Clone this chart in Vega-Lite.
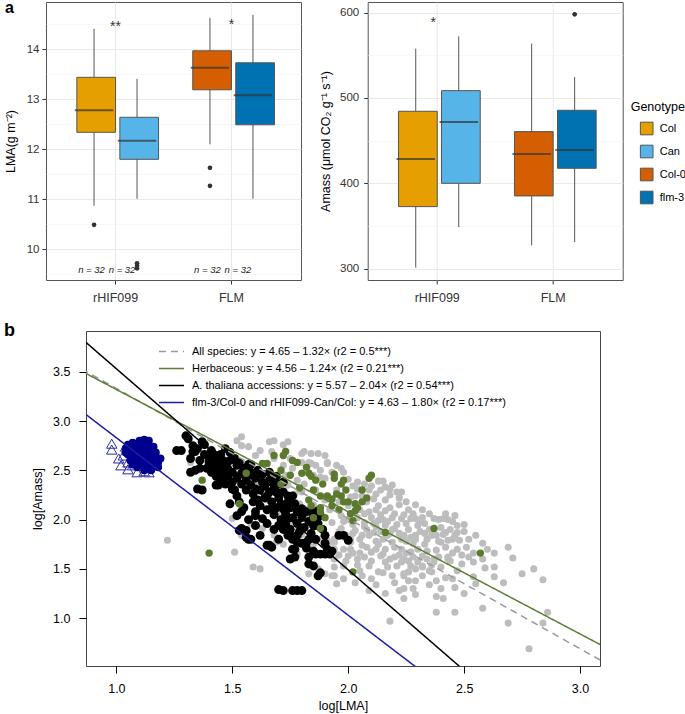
{
  "$schema": "https://vega.github.io/schema/vega-lite/v6.json",
  "padding": {"left": 3, "top": -1, "right": 0, "bottom": 0},
  "config": {
    "font": "Liberation Sans",
    "view": {"stroke": null},
    "axis": {"labelColor": "#333", "titleColor": "#000", "titleFontWeight": "normal", "domain": false},
    "legend": {"titleFontWeight": "normal"}
  },
  "datasets": {
    "lma_box": [
      {"locus": "rHIF099", "pos": "1", "geno": "Col", "lo": 10.87, "q1": 12.34, "med": 12.78, "q3": 13.44, "hi": 14.41},
      {"locus": "rHIF099", "pos": "2", "geno": "Can", "lo": 11.01, "q1": 11.80, "med": 12.17, "q3": 12.64, "hi": 13.41},
      {"locus": "FLM", "pos": "1", "geno": "Col-0", "lo": 12.10, "q1": 13.19, "med": 13.63, "q3": 13.97, "hi": 14.63},
      {"locus": "FLM", "pos": "2", "geno": "flm-3", "lo": 11.01, "q1": 12.49, "med": 13.08, "q3": 13.73, "hi": 14.69}
    ],
    "lma_out": [
      {"locus": "rHIF099", "pos": "1", "v": 10.49},
      {"locus": "rHIF099", "pos": "2", "v": 9.72},
      {"locus": "rHIF099", "pos": "2", "v": 9.67},
      {"locus": "rHIF099", "pos": "2", "v": 9.62},
      {"locus": "FLM", "pos": "1", "v": 11.63},
      {"locus": "FLM", "pos": "1", "v": 11.27}
    ],
    "lma_ann": [
      {"locus": "rHIF099", "v": 14.37, "t": "**"},
      {"locus": "FLM", "v": 14.41, "t": "*"}
    ],
    "lma_n": [
      {"locus": "rHIF099", "pos": "1", "v": 9.58, "t": "n = 32"},
      {"locus": "rHIF099", "pos": "2", "v": 9.58, "t": "n = 32"},
      {"locus": "FLM", "pos": "1", "v": 9.58, "t": "n = 32"},
      {"locus": "FLM", "pos": "2", "v": 9.58, "t": "n = 32"}
    ],
    "am_box": [
      {"locus": "rHIF099", "pos": "1", "geno": "Col", "lo": 301.2, "q1": 372.7, "med": 428.5, "q3": 484.4, "hi": 557.8},
      {"locus": "rHIF099", "pos": "2", "geno": "Can", "lo": 348.8, "q1": 400.0, "med": 471.9, "q3": 508.6, "hi": 572.3},
      {"locus": "FLM", "pos": "1", "geno": "Col-0", "lo": 327.4, "q1": 385.2, "med": 434.4, "q3": 460.6, "hi": 563.7},
      {"locus": "FLM", "pos": "2", "geno": "flm-3", "lo": 331.2, "q1": 417.6, "med": 439.1, "q3": 485.6, "hi": 524.6}
    ],
    "am_out": [
      {"locus": "FLM", "pos": "2", "v": 598.1}
    ],
    "am_ann": [
      {"locus": "rHIF099", "v": 583, "t": "*"}
    ],
    "lines": [
      {"s": "All species: y = 4.65 – 1.32× (r2 = 0.5***)", "x": 0.85, "y": 3.528},
      {"s": "All species: y = 4.65 – 1.32× (r2 = 0.5***)", "x": 3.1, "y": 0.558},
      {"s": "Herbaceous: y = 4.56 – 1.24× (r2 = 0.21***)", "x": 0.85, "y": 3.506},
      {"s": "Herbaceous: y = 4.56 – 1.24× (r2 = 0.21***)", "x": 3.1, "y": 0.716},
      {"s": "A. thaliana accessions: y = 5.57 – 2.04× (r2 = 0.54***)", "x": 0.85, "y": 3.836},
      {"s": "A. thaliana accessions: y = 5.57 – 2.04× (r2 = 0.54***)", "x": 2.6, "y": 0.266},
      {"s": "flm-3/Col-0 and rHIF099-Can/Col: y = 4.63 – 1.80× (r2 = 0.17***)", "x": 0.85, "y": 3.10},
      {"s": "flm-3/Col-0 and rHIF099-Can/Col: y = 4.63 – 1.80× (r2 = 0.17***)", "x": 2.4, "y": 0.31}
    ],
    "gray": [
      {"x":1.22,"y":1.79},{"x":1.32,"y":2.58},{"x":1.38,"y":2.62},{"x":1.51,"y":1.67},{"x":1.59,"y":1.52},{"x":1.62,"y":1.50},
      {"x":1.52,"y":2.80},{"x":1.54,"y":2.84},{"x":1.54,"y":2.75},{"x":1.57,"y":2.74},{"x":1.60,"y":2.65},{"x":1.66,"y":2.79},
      {"x":1.68,"y":2.80},{"x":1.67,"y":2.69},{"x":1.72,"y":2.76},{"x":1.74,"y":2.79},{"x":1.81,"y":2.69},{"x":1.84,"y":2.67},
      {"x":1.80,"y":2.67},{"x":1.83,"y":2.58},{"x":1.87,"y":2.67},{"x":1.90,"y":2.65},{"x":1.91,"y":2.58},{"x":1.62,"y":2.70},
      {"x":1.68,"y":2.62},{"x":1.50,"y":2.01},{"x":1.58,"y":1.96},{"x":1.63,"y":1.91},{"x":1.68,"y":1.84},{"x":1.54,"y":1.84},
      {"x":1.83,"y":1.45},{"x":1.87,"y":1.50},{"x":1.93,"y":1.43},{"x":1.91,"y":1.79},{"x":1.94,"y":1.77},{"x":1.76,"y":2.18},
      {"x":1.77,"y":2.26},{"x":1.79,"y":2.16},{"x":1.83,"y":2.01},{"x":1.70,"y":2.40},{"x":1.73,"y":2.45},{"x":1.76,"y":2.52},
      {"x":1.78,"y":2.40},{"x":1.86,"y":2.55},{"x":1.88,"y":2.50},{"x":1.95,"y":2.55},{"x":1.98,"y":2.48},{"x":1.97,"y":2.52},
      {"x":1.84,"y":2.57},{"x":1.91,"y":2.57},{"x":1.88,"y":2.43},{"x":1.81,"y":2.36},{"x":2.00,"y":2.41},{"x":2.04,"y":2.38},
      {"x":2.04,"y":2.31},{"x":2.09,"y":2.30},{"x":2.13,"y":2.39},{"x":2.14,"y":2.30},{"x":2.21,"y":2.28},{"x":2.11,"y":2.21},
      {"x":2.01,"y":2.23},{"x":2.03,"y":2.24},{"x":2.06,"y":2.24},{"x":2.13,"y":2.14},{"x":2.16,"y":2.09},{"x":2.09,"y":2.08},
      {"x":2.07,"y":1.97},{"x":2.13,"y":1.99},{"x":2.19,"y":2.02},{"x":2.23,"y":2.01},{"x":2.27,"y":2.01},{"x":2.32,"y":2.02},
      {"x":2.37,"y":2.01},{"x":2.41,"y":2.01},{"x":2.43,"y":2.00},{"x":2.39,"y":2.00},{"x":2.20,"y":1.91},{"x":2.24,"y":1.84},
      {"x":2.29,"y":1.80},{"x":2.34,"y":1.80},{"x":2.43,"y":1.79},{"x":2.11,"y":1.87},{"x":2.06,"y":1.84},{"x":2.01,"y":1.80},
      {"x":1.97,"y":1.91},{"x":1.94,"y":1.80},{"x":1.94,"y":1.70},{"x":1.98,"y":1.70},{"x":2.06,"y":1.74},{"x":2.10,"y":1.67},
      {"x":2.16,"y":1.70},{"x":2.19,"y":1.77},{"x":2.23,"y":1.70},{"x":2.27,"y":1.67},{"x":2.32,"y":1.63},{"x":2.37,"y":1.60},
      {"x":2.04,"y":1.60},{"x":2.09,"y":1.53},{"x":2.16,"y":1.57},{"x":2.21,"y":1.53},{"x":2.13,"y":1.47},{"x":2.06,"y":1.43},
      {"x":2.24,"y":1.45},{"x":2.19,"y":1.43},{"x":1.94,"y":1.60},{"x":1.98,"y":1.53},{"x":2.16,"y":1.94},{"x":1.97,"y":2.04},
      {"x":1.93,"y":1.97},{"x":1.88,"y":1.80},{"x":2.23,"y":1.80},{"x":2.42,"y":1.87},{"x":2.43,"y":1.60},{"x":2.32,"y":1.52},
      {"x":2.27,"y":1.53},{"x":2.36,"y":1.47},{"x":2.17,"y":1.84},{"x":2.13,"y":1.75},{"x":2.01,"y":1.70},{"x":2.03,"y":1.89},
      {"x":2.01,"y":1.77},{"x":1.93,"y":1.77},
      {"x":2.63,"y":1.66},{"x":2.71,"y":1.61},{"x":2.80,"y":1.50},{"x":2.84,"y":1.39},{"x":2.67,"y":1.36},{"x":2.86,"y":1.06},
      {"x":2.84,"y":0.95},{"x":2.69,"y":0.95},{"x":2.78,"y":0.69},{"x":2.58,"y":1.10},{"x":2.46,"y":1.06},{"x":2.38,"y":1.06},
      {"x":2.38,"y":1.22},{"x":2.41,"y":1.20},{"x":2.29,"y":1.24},{"x":2.24,"y":1.20},{"x":2.24,"y":1.30},{"x":2.46,"y":1.31},
      {"x":2.29,"y":1.38},{"x":2.38,"y":1.38},{"x":2.42,"y":1.41},{"x":2.45,"y":1.40},{"x":2.54,"y":1.42},{"x":2.59,"y":1.51},
      {"x":2.63,"y":1.52},{"x":2.54,"y":1.57},{"x":2.54,"y":1.66},{"x":2.49,"y":1.55},{"x":2.47,"y":1.48},{"x":2.35,"y":1.48},
      {"x":2.26,"y":1.47},{"x":2.32,"y":1.53},{"x":2.37,"y":1.57},{"x":2.44,"y":1.58},{"x":2.49,"y":1.64},{"x":2.48,"y":1.79},
      {"x":2.46,"y":1.84},{"x":2.42,"y":1.72},{"x":2.38,"y":1.69},{"x":2.43,"y":1.62},{"x":2.33,"y":1.86},{"x":2.29,"y":1.84},
      {"x":2.25,"y":1.78},{"x":2.33,"y":1.75},{"x":2.40,"y":1.77},{"x":2.24,"y":1.60},{"x":2.29,"y":1.50},{"x":2.24,"y":1.43},
      {"x":2.32,"y":1.43},{"x":2.45,"y":1.80},{"x":2.47,"y":1.87},
      {"x":2.18,"y":0.97},{"x":2.09,"y":1.28},{"x":2.03,"y":1.36},{"x":1.94,"y":1.43},{"x":1.94,"y":1.52},{"x":1.90,"y":1.45},
      {"x":2.23,"y":2.28},{"x":2.15,"y":2.39},{"x":2.18,"y":2.31},{"x":2.29,"y":2.01},{"x":2.46,"y":2.04},{"x":2.50,"y":1.95},
      {"x":2.08,"y":1.90},{"x":2.12,"y":1.93},{"x":2.15,"y":1.80},{"x":2.18,"y":1.86},{"x":2.21,"y":1.95},{"x":2.26,"y":1.90},
      {"x":2.30,"y":1.94},{"x":2.35,"y":1.90},{"x":2.38,"y":1.84},{"x":2.40,"y":1.92},{"x":2.14,"y":1.63},{"x":2.18,"y":1.60},
      {"x":2.22,"y":1.64},{"x":2.26,"y":1.58},{"x":2.30,"y":1.70},{"x":2.34,"y":1.68},{"x":2.28,"y":1.76},{"x":2.20,"y":1.72},
      {"x":2.12,"y":1.78},{"x":2.08,"y":1.72},{"x":2.05,"y":1.66},{"x":2.00,"y":1.63},{"x":1.98,"y":1.98},{"x":2.02,"y":1.95},
      {"x":2.10,"y":2.02},{"x":2.14,"y":2.05},{"x":2.18,"y":2.12},{"x":2.22,"y":2.15},{"x":2.26,"y":2.10},{"x":2.05,"y":2.10},
      {"x":2.00,"y":2.14},{"x":1.96,"y":2.18},{"x":2.08,"y":2.18},{"x":2.12,"y":2.26},{"x":2.16,"y":2.20},{"x":2.19,"y":2.35},
      {"x":1.72,"y":2.55},{"x":1.75,"y":2.62},{"x":1.80,"y":2.58},{"x":1.85,"y":2.45},{"x":1.90,"y":2.42},{"x":1.93,"y":2.48},
      {"x":1.70,"y":2.32},{"x":1.74,"y":2.35},{"x":1.80,"y":2.28},{"x":1.86,"y":2.30},{"x":1.90,"y":2.20},{"x":1.85,"y":2.15},
      {"x":1.82,"y":2.10},{"x":1.88,"y":2.05},{"x":1.92,"y":2.10},{"x":1.95,"y":2.30},
      {"x":1.45,"y":2.50},{"x":1.50,"y":2.40},{"x":1.55,"y":2.50},{"x":1.60,"y":2.35},{"x":1.65,"y":2.20},{"x":1.70,"y":2.05},
      {"x":1.75,"y":1.95},{"x":1.80,"y":1.85},{"x":1.85,"y":1.75},{"x":1.72,"y":1.75},{"x":1.78,"y":1.65},{"x":1.69,"y":1.77},
      {"x":1.96,"y":1.88},{"x":1.99,"y":1.84},{"x":2.02,"y":1.86},{"x":2.05,"y":1.80},{"x":2.07,"y":1.93},{"x":2.09,"y":1.84},
      {"x":2.11,"y":1.96},{"x":2.14,"y":1.88},{"x":2.17,"y":1.98},{"x":2.19,"y":1.90},{"x":2.22,"y":1.86},{"x":2.25,"y":1.96},
      {"x":2.27,"y":1.82},{"x":2.31,"y":1.88},{"x":2.33,"y":1.96},{"x":2.36,"y":1.84},{"x":2.39,"y":1.78},{"x":2.41,"y":1.85},
      {"x":2.44,"y":1.90},{"x":2.47,"y":1.94},{"x":2.50,"y":1.88},{"x":2.52,"y":1.80},{"x":2.55,"y":1.84},{"x":2.58,"y":1.76},
      {"x":2.60,"y":1.70},{"x":1.96,"y":1.64},{"x":1.99,"y":1.58},{"x":2.02,"y":1.66},{"x":2.04,"y":1.54},{"x":2.07,"y":1.62},
      {"x":2.10,"y":1.58},{"x":2.12,"y":1.70},{"x":2.15,"y":1.65},{"x":2.17,"y":1.52},{"x":2.20,"y":1.62},{"x":2.23,"y":1.57},
      {"x":2.25,"y":1.66},{"x":2.28,"y":1.62},{"x":2.30,"y":1.57},{"x":2.34,"y":1.60},{"x":2.36,"y":1.54},{"x":2.39,"y":1.62},
      {"x":2.40,"y":1.52},{"x":2.45,"y":1.66},{"x":2.47,"y":1.70},{"x":2.51,"y":1.72},{"x":2.52,"y":1.62},{"x":2.00,"y":2.00},
      {"x":2.04,"y":2.02},{"x":2.07,"y":2.06},{"x":2.12,"y":2.10},{"x":2.15,"y":2.00},{"x":2.20,"y":2.06},{"x":2.24,"y":2.05},
      {"x":2.28,"y":2.06},{"x":2.31,"y":1.98},{"x":2.35,"y":2.06},{"x":2.42,"y":2.06},{"x":2.45,"y":1.98},{"x":2.02,"y":2.34},
      {"x":2.07,"y":2.36},{"x":2.10,"y":2.34},{"x":2.16,"y":2.33},{"x":2.18,"y":2.25},{"x":2.22,"y":2.22},{"x":2.25,"y":2.18},
      {"x":2.29,"y":2.15},{"x":2.32,"y":2.10},{"x":1.95,"y":1.35},{"x":1.98,"y":1.40},{"x":2.05,"y":1.48},{"x":2.10,"y":1.40},
      {"x":2.12,"y":1.34},{"x":2.15,"y":1.46},{"x":2.20,"y":1.36},{"x":2.22,"y":1.28},{"x":2.26,"y":1.38},{"x":2.28,"y":1.30},
      {"x":2.35,"y":1.34},{"x":2.16,"y":1.25},{"x":2.40,"y":1.30},{"x":2.50,"y":1.25},{"x":2.55,"y":1.35},{"x":2.63,"y":1.42},
      {"x":2.58,"y":1.60},{"x":2.69,"y":1.72},{"x":2.75,"y":1.45}
    ],
    "black": [
      {"x":1.30,"y":2.85},{"x":1.31,"y":2.82},{"x":1.28,"y":2.70},{"x":1.34,"y":2.69},{"x":1.37,"y":2.79},{"x":1.38,"y":2.76},
      {"x":1.36,"y":2.52},{"x":1.37,"y":2.30},{"x":1.40,"y":2.63},{"x":1.42,"y":2.55},{"x":1.46,"y":2.60},{"x":1.48,"y":2.52},
      {"x":1.52,"y":2.55},{"x":1.54,"y":2.47},{"x":1.50,"y":2.38},{"x":1.52,"y":2.24},{"x":1.49,"y":2.16},{"x":1.54,"y":2.08},
      {"x":1.53,"y":1.89},{"x":1.58,"y":1.80},{"x":1.60,"y":2.31},{"x":1.59,"y":2.18},{"x":1.63,"y":2.38},{"x":1.65,"y":2.24},
      {"x":1.67,"y":2.11},{"x":1.70,"y":1.94},{"x":1.72,"y":1.90},{"x":1.67,"y":1.72},{"x":1.66,"y":1.74},{"x":1.76,"y":1.70},
      {"x":1.77,"y":1.62},{"x":1.82,"y":1.71},{"x":1.85,"y":1.53},{"x":1.88,"y":1.65},{"x":1.87,"y":1.43},{"x":1.88,"y":1.46},
      {"x":1.92,"y":1.65},{"x":1.90,"y":1.84},{"x":1.98,"y":1.84},{"x":2.00,"y":1.79},{"x":1.86,"y":1.94},{"x":1.82,"y":1.77},
      {"x":1.76,"y":1.80},{"x":1.74,"y":2.01},{"x":1.80,"y":2.11},{"x":1.84,"y":2.08},{"x":1.87,"y":2.09},{"x":1.74,"y":2.18},
      {"x":1.69,"y":2.28},{"x":1.57,"y":2.45},{"x":1.67,"y":2.38},{"x":1.72,"y":1.28},{"x":1.76,"y":1.28},{"x":1.78,"y":1.28},
      {"x":1.80,"y":1.28},{"x":1.56,"y":1.89},{"x":1.63,"y":2.01},{"x":1.60,"y":2.04},{"x":1.72,"y":2.11},{"x":1.76,"y":2.24},
      {"x":1.46,"y":2.45},{"x":1.32,"y":2.62},
      {"x":1.38,"y":2.66},{"x":1.40,"y":2.58},{"x":1.41,"y":2.70},{"x":1.43,"y":2.62},{"x":1.44,"y":2.50},{"x":1.45,"y":2.66},
      {"x":1.47,"y":2.55},{"x":1.48,"y":2.44},{"x":1.49,"y":2.60},{"x":1.50,"y":2.48},{"x":1.51,"y":2.62},{"x":1.52,"y":2.42},
      {"x":1.53,"y":2.58},{"x":1.54,"y":2.36},{"x":1.55,"y":2.52},{"x":1.56,"y":2.40},{"x":1.56,"y":2.30},{"x":1.57,"y":2.56},
      {"x":1.58,"y":2.35},{"x":1.58,"y":2.48},{"x":1.59,"y":2.26},{"x":1.60,"y":2.42},{"x":1.61,"y":2.20},{"x":1.61,"y":2.50},
      {"x":1.62,"y":2.30},{"x":1.62,"y":2.14},{"x":1.63,"y":2.46},{"x":1.64,"y":2.22},{"x":1.64,"y":2.34},{"x":1.65,"y":2.10},
      {"x":1.66,"y":2.28},{"x":1.66,"y":2.40},{"x":1.67,"y":2.18},{"x":1.68,"y":2.05},{"x":1.68,"y":2.32},{"x":1.69,"y":2.12},
      {"x":1.70,"y":2.22},{"x":1.70,"y":2.36},{"x":1.71,"y":2.00},{"x":1.71,"y":2.16},{"x":1.72,"y":2.28},{"x":1.73,"y":1.95},
      {"x":1.73,"y":2.06},{"x":1.74,"y":2.24},{"x":1.75,"y":2.12},{"x":1.75,"y":1.90},{"x":1.76,"y":2.02},{"x":1.77,"y":2.16},
      {"x":1.78,"y":1.96},{"x":1.78,"y":2.08},{"x":1.79,"y":1.88},{"x":1.80,"y":2.02},{"x":1.81,"y":1.92},{"x":1.82,"y":2.08},
      {"x":1.83,"y":1.98},{"x":1.84,"y":1.86},{"x":1.85,"y":2.02},{"x":1.86,"y":1.80},{"x":1.87,"y":1.96},{"x":1.88,"y":2.04},
      {"x":1.89,"y":1.90},{"x":1.90,"y":1.76},{"x":1.91,"y":1.70},{"x":1.93,"y":1.68},{"x":1.85,"y":1.68},{"x":1.83,"y":1.62},
      {"x":1.80,"y":1.76},{"x":1.78,"y":1.84},{"x":1.74,"y":1.84},{"x":1.70,"y":1.80},{"x":1.68,"y":1.90},{"x":1.65,"y":1.96},
      {"x":1.62,"y":1.84},{"x":1.60,"y":1.94},{"x":1.57,"y":2.00},{"x":1.55,"y":2.12},{"x":1.53,"y":2.18},{"x":1.51,"y":2.30},
      {"x":1.47,"y":2.36},{"x":1.45,"y":2.40},{"x":1.43,"y":2.44},{"x":1.41,"y":2.48},{"x":1.39,"y":2.52},{"x":1.36,"y":2.60},
      {"x":1.35,"y":2.72},{"x":1.33,"y":2.75},{"x":1.42,"y":2.66},{"x":1.44,"y":2.58},{"x":1.46,"y":2.52},{"x":1.49,"y":2.68},
      {"x":1.58,"y":2.56},{"x":1.66,"y":2.48},{"x":1.69,"y":2.44},{"x":1.72,"y":2.38},
      {"x":1.26,"y":2.70},{"x":1.35,"y":2.31},{"x":1.32,"y":2.48},{"x":1.43,"y":2.35},{"x":1.33,"y":2.69},{"x":1.34,"y":2.50},
      {"x":1.42,"y":2.62},{"x":1.47,"y":2.72},{"x":1.44,"y":2.35},{"x":1.50,"y":2.31},{"x":1.52,"y":2.04},{"x":1.54,"y":1.91},
      {"x":1.56,"y":1.82},{"x":1.60,"y":2.08},{"x":1.65,"y":1.74},{"x":1.71,"y":1.94},{"x":1.75,"y":1.84},{"x":1.78,"y":1.77},
      {"x":1.83,"y":1.80},{"x":1.85,"y":1.94},{"x":1.80,"y":2.04},{"x":1.75,"y":1.60},{"x":1.83,"y":1.55},{"x":1.86,"y":1.65},
      {"x":1.90,"y":1.65},{"x":1.96,"y":1.84},{"x":1.77,"y":1.70},{"x":1.57,"y":1.80},{"x":1.70,"y":1.29}
    ],
    "green": [
      {"x":2.10,"y":2.45},{"x":1.94,"y":2.46},{"x":1.97,"y":2.36},{"x":1.89,"y":2.36},{"x":1.91,"y":2.24},{"x":1.95,"y":2.26},
      {"x":1.98,"y":2.18},{"x":2.03,"y":2.16},{"x":2.06,"y":2.18},{"x":2.01,"y":2.06},{"x":2.02,"y":1.99},{"x":2.16,"y":1.87},
      {"x":2.37,"y":1.91},{"x":2.02,"y":1.47},{"x":1.84,"y":2.14},{"x":1.85,"y":2.30},{"x":1.83,"y":2.47},{"x":1.88,"y":2.08},
      {"x":1.93,"y":2.14},{"x":1.88,"y":1.91},{"x":1.63,"y":2.57},{"x":1.71,"y":2.50},{"x":1.78,"y":2.58},{"x":1.82,"y":2.53},
      {"x":1.73,"y":2.69},{"x":1.68,"y":2.65},{"x":1.75,"y":2.45},{"x":1.80,"y":2.47},{"x":1.84,"y":2.44},{"x":1.94,"y":2.42},
      {"x":1.88,"y":2.24},{"x":1.93,"y":2.21},{"x":1.97,"y":2.24},{"x":2.00,"y":2.18},{"x":2.04,"y":2.12},{"x":2.03,"y":2.09},
      {"x":1.88,"y":2.12},{"x":1.85,"y":2.02},{"x":2.09,"y":2.42},{"x":1.71,"y":2.36},{"x":1.56,"y":2.47},{"x":1.40,"y":1.66},
      {"x":1.37,"y":2.40},{"x":1.53,"y":2.16},{"x":2.57,"y":1.66},{"x":1.65,"y":2.57},{"x":1.72,"y":2.65},{"x":1.79,"y":2.32},
      {"x":1.86,"y":2.40},{"x":1.99,"y":2.30},{"x":2.06,"y":2.30},{"x":2.08,"y":2.22},{"x":1.76,"y":2.60},{"x":1.96,"y":2.10},
      {"x":1.90,"y":2.02},{"x":1.83,"y":2.20},{"x":1.98,"y":2.40}
    ],
    "blue": [
      {"x":1.05,"y":2.76},{"x":1.06,"y":2.72},{"x":1.07,"y":2.78},{"x":1.08,"y":2.74},{"x":1.09,"y":2.70},{"x":1.10,"y":2.80},
      {"x":1.11,"y":2.76},{"x":1.12,"y":2.72},{"x":1.13,"y":2.79},{"x":1.14,"y":2.75},{"x":1.15,"y":2.70},{"x":1.05,"y":2.66},
      {"x":1.07,"y":2.63},{"x":1.08,"y":2.68},{"x":1.09,"y":2.62},{"x":1.10,"y":2.66},{"x":1.11,"y":2.60},{"x":1.12,"y":2.65},
      {"x":1.13,"y":2.58},{"x":1.14,"y":2.64},{"x":1.15,"y":2.60},{"x":1.16,"y":2.66},{"x":1.17,"y":2.62},{"x":1.18,"y":2.58},
      {"x":1.16,"y":2.55},{"x":1.14,"y":2.52},{"x":1.12,"y":2.54},{"x":1.10,"y":2.56},{"x":1.08,"y":2.58},{"x":1.06,"y":2.60},
      {"x":1.04,"y":2.72},{"x":1.04,"y":2.68},{"x":1.11,"y":2.70},{"x":1.13,"y":2.68},{"x":1.17,"y":2.68},{"x":1.19,"y":2.62},
      {"x":1.18,"y":2.53},{"x":1.15,"y":2.50},{"x":1.12,"y":2.50},{"x":1.09,"y":2.53},{"x":1.07,"y":2.56},{"x":1.14,"y":2.80},
      {"x":1.12,"y":2.81},{"x":1.10,"y":2.74},{"x":1.16,"y":2.74},{"x":1.06,"y":2.69},{"x":1.08,"y":2.64},{"x":1.15,"y":2.56},
      {"x":1.13,"y":2.62},{"x":1.11,"y":2.64}
    ],
    "tri": [
      {"x":0.98,"y":2.77},{"x":0.98,"y":2.71},{"x":1.03,"y":2.65},{"x":1.02,"y":2.55},{"x":1.09,"y":2.48},{"x":1.14,"y":2.48},
      {"x":1.05,"y":2.58},{"x":1.07,"y":2.55},{"x":1.01,"y":2.62},{"x":1.04,"y":2.74},{"x":1.12,"y":2.49},{"x":1.05,"y":2.51}
    ]
  },
  "columns": 1,
  "spacing": 17,
  "align": "none",
  "resolve": {"scale": {"color": "independent", "strokeDash": "independent"}, "legend": {"color": "independent", "strokeDash": "independent"}},
  "concat": [
    {
      "hconcat": [
        {
          "width": 255, "height": 278,
          "title": {"text": "a", "anchor": "start", "frame": "group", "dx": -41, "offset": -14, "baseline": "top", "fontSize": 16, "fontWeight": "bold", "color": "#000"},
          "view": {"stroke": "#555", "strokeWidth": 1},
          "resolve": {"axis": {"y": "independent"}},
          "layer": [
            {
              "data": {"name": "lma_box"},
              "mark": {"type": "rule", "color": "#555", "strokeWidth": 1},
              "encoding": {
                "x": {"field": "locus", "type": "nominal", "sort": ["rHIF099", "FLM"], "title": null,
                      "scale": {"domain": ["rHIF099", "FLM"], "paddingInner": 0.258, "paddingOuter": 0.229},
                      "axis": {"labelFontSize": 12.5, "labelAngle": 0, "tickSize": 4, "tickColor": "#333", "labelPadding": 7, "grid": true, "gridColor": "#e6e6e6", "gridWidth": 0.9, "bandPosition": 0.5}},
                "xOffset": {"field": "pos", "type": "nominal", "scale": {"domain": ["1", "2"], "paddingInner": 0, "paddingOuter": 0}},
                "y": {"field": "lo", "type": "quantitative", "title": "LMA(g m⁻²)",
                      "scale": {"domain": [9.386, 14.946], "nice": false, "zero": false},
                      "axis": {"values": [10, 11, 12, 13, 14], "format": "d",
                               "labelFontSize": 11.5, "titleFontSize": 12.5, "titlePadding": 9, "tickSize": 4, "tickColor": "#333", "labelPadding": 3,
                               "grid": true, "gridColor": "#e6e6e6", "gridWidth": 0.9}},
                "y2": {"field": "hi"}
              }
            },
            {
              "data": {"name": "lma_box"},
              "mark": {"type": "bar", "stroke": "#555", "strokeWidth": 1, "width": {"band": 0.9}},
              "encoding": {
                "x": {"field": "locus", "type": "nominal", "sort": ["rHIF099", "FLM"], "title": null},
                "xOffset": {"field": "pos", "type": "nominal"},
                "y": {"field": "q1", "type": "quantitative", "axis": null},
                "y2": {"field": "q3"},
                "color": {"field": "geno", "type": "nominal", "legend": null,
                          "scale": {"domain": ["Col", "Can", "Col-0", "flm-3"], "range": ["#E69F00", "#56B4E9", "#D55E00", "#0072B2"]}}
              }
            },
            {
              "data": {"name": "lma_box"},
              "mark": {"type": "tick", "color": "#333", "thickness": 2, "size": 38.5},
              "encoding": {
                "x": {"field": "locus", "type": "nominal", "sort": ["rHIF099", "FLM"], "title": null},
                "xOffset": {"field": "pos", "type": "nominal"},
                "y": {"field": "med", "type": "quantitative", "axis": null}
              }
            },
            {
              "data": {"name": "lma_out"},
              "mark": {"type": "circle", "color": "#333", "size": 22, "opacity": 1},
              "encoding": {
                "x": {"field": "locus", "type": "nominal", "sort": ["rHIF099", "FLM"], "title": null},
                "xOffset": {"field": "pos", "type": "nominal"},
                "y": {"field": "v", "type": "quantitative", "axis": null}
              }
            },
            {
              "data": {"name": "lma_ann"},
              "mark": {"type": "text", "fontSize": 14, "baseline": "alphabetic", "color": "#333"},
              "encoding": {
                "x": {"field": "locus", "type": "nominal", "sort": ["rHIF099", "FLM"], "title": null},
                "y": {"field": "v", "type": "quantitative", "axis": null},
                "text": {"field": "t"}
              }
            },
            {
              "data": {"name": "lma_n"},
              "transform": [{"filter": "datum.pos === '1'"}],
              "mark": {"type": "text", "fontSize": 9.5, "fontStyle": "italic", "baseline": "middle", "color": "#222", "dx": -2.5},
              "encoding": {
                "x": {"field": "locus", "type": "nominal", "sort": ["rHIF099", "FLM"], "title": null},
                "xOffset": {"field": "pos", "type": "nominal"},
                "y": {"field": "v", "type": "quantitative", "axis": null},
                "text": {"field": "t"}
              }
            },
            {
              "data": {"name": "lma_n"},
              "transform": [{"filter": "datum.pos === '2'"}],
              "mark": {"type": "text", "fontSize": 9.5, "fontStyle": "italic", "baseline": "middle", "color": "#222", "dx": -15},
              "encoding": {
                "x": {"field": "locus", "type": "nominal", "sort": ["rHIF099", "FLM"], "title": null},
                "xOffset": {"field": "pos", "type": "nominal"},
                "y": {"field": "v", "type": "quantitative", "title": null,
                      "axis": {"orient": "right", "values": [9.5, 10.5, 11.5, 12.5, 13.5, 14.5], "labels": false, "ticks": false, "domain": false, "title": null,
                               "grid": true, "gridColor": "#f3f3f3", "gridWidth": 0.6}},
                "text": {"field": "t"}
              }
            }
          ]
        },
        {
          "width": 255, "height": 278,
          "view": {"stroke": "#555", "strokeWidth": 1},
          "layer": [
            {
              "data": {"name": "am_box"},
              "mark": {"type": "rule", "color": "#555", "strokeWidth": 1},
              "encoding": {
                "x": {"field": "locus", "type": "nominal", "sort": ["rHIF099", "FLM"], "title": null,
                      "scale": {"domain": ["rHIF099", "FLM"], "paddingInner": 0.258, "paddingOuter": 0.229},
                      "axis": {"labelFontSize": 12.5, "labelAngle": 0, "tickSize": 4, "tickColor": "#333", "labelPadding": 7, "grid": true, "gridColor": "#e6e6e6", "gridWidth": 0.9, "bandPosition": 0.5}},
                "xOffset": {"field": "pos", "type": "nominal", "scale": {"domain": ["1", "2"], "paddingInner": 0, "paddingOuter": 0}},
                "y": {"field": "lo", "type": "quantitative", "title": "Amass (μmol CO₂ g⁻¹ s⁻¹)",
                      "scale": {"domain": [286.7, 612.5], "nice": false, "zero": false},
                      "axis": {"values": [300, 350, 400, 450, 500, 550, 600],
                               "labelExpr": "datum.value % 100 === 0 ? format(datum.value, '.0f') : ''",
                               "labelOverlap": false,
                               "labelFontSize": 11.5, "titleFontSize": 12.5, "titlePadding": 7, "tickSize": 4, "tickColor": "#333", "labelPadding": 5,
                               "grid": true,
                               "gridColor": {"condition": {"test": "datum.value % 100 !== 0", "value": "#f3f3f3"}, "value": "#e6e6e6"},
                               "gridWidth": {"condition": {"test": "datum.value % 100 !== 0", "value": 0.6}, "value": 0.9},
                               "tickOpacity": {"condition": {"test": "datum.value % 100 !== 0", "value": 0}, "value": 1}}},
                "y2": {"field": "hi"}
              }
            },
            {
              "data": {"name": "am_box"},
              "mark": {"type": "bar", "stroke": "#555", "strokeWidth": 1, "width": {"band": 0.9}},
              "encoding": {
                "x": {"field": "locus", "type": "nominal", "sort": ["rHIF099", "FLM"], "title": null},
                "xOffset": {"field": "pos", "type": "nominal"},
                "y": {"field": "q1", "type": "quantitative", "title": "Amass (μmol CO₂ g⁻¹ s⁻¹)"},
                "y2": {"field": "q3"},
                "color": {"field": "geno", "type": "nominal",
                          "scale": {"domain": ["Col", "Can", "Col-0", "flm-3"], "range": ["#E69F00", "#56B4E9", "#D55E00", "#0072B2"]},
                          "legend": {"orient": "none", "legendX": 263, "legendY": 99, "title": "Genotype", "titleFontSize": 12.5, "titleColor": "#000",
                                     "titlePadding": 8, "labelFontSize": 11, "labelColor": "#000", "symbolType": "square", "symbolSize": 160,
                                     "symbolStrokeColor": "#555", "symbolStrokeWidth": 1, "symbolOffset": 9, "labelOffset": 6, "rowPadding": 5}}
              }
            },
            {
              "data": {"name": "am_box"},
              "mark": {"type": "tick", "color": "#333", "thickness": 2, "size": 38.5},
              "encoding": {
                "x": {"field": "locus", "type": "nominal", "sort": ["rHIF099", "FLM"], "title": null},
                "xOffset": {"field": "pos", "type": "nominal"},
                "y": {"field": "med", "type": "quantitative", "title": "Amass (μmol CO₂ g⁻¹ s⁻¹)"}
              }
            },
            {
              "data": {"name": "am_out"},
              "mark": {"type": "circle", "color": "#333", "size": 22, "opacity": 1},
              "encoding": {
                "x": {"field": "locus", "type": "nominal", "sort": ["rHIF099", "FLM"], "title": null},
                "xOffset": {"field": "pos", "type": "nominal"},
                "y": {"field": "v", "type": "quantitative", "title": "Amass (μmol CO₂ g⁻¹ s⁻¹)"}
              }
            },
            {
              "data": {"name": "am_ann"},
              "mark": {"type": "text", "fontSize": 14, "baseline": "alphabetic", "color": "#333", "dx": -4},
              "encoding": {
                "x": {"field": "locus", "type": "nominal", "sort": ["rHIF099", "FLM"], "title": null},
                "y": {"field": "v", "type": "quantitative", "title": "Amass (μmol CO₂ g⁻¹ s⁻¹)"},
                "text": {"field": "t"}
              }
            }
          ]
        }
      ],
      "spacing": 66.7,
      "bounds": "flush",
      "resolve": {"scale": {"color": "independent"}, "legend": {"color": "independent"}}
    },
    {
      "hconcat": [
        {
          "width": 40, "height": 335,
          "data": {"values": []},
          "mark": {"type": "point", "opacity": 0},
          "encoding": {}
        },
        {
          "width": 514, "height": 335,
          "title": {"text": "b", "anchor": "start", "frame": "group", "dx": -82, "offset": 0, "dy": 23, "baseline": "alphabetic", "fontSize": 18, "fontWeight": "bold", "color": "#000"},
          "view": {"stroke": "#444", "strokeWidth": 1},
          "layer": [
            {
              "data": {"name": "gray"},
              "mark": {"type": "circle", "color": "#bdbdbd", "size": 50, "opacity": 1},
              "encoding": {
                "x": {"field": "x", "type": "quantitative", "title": "log[LMA]",
                      "scale": {"domain": [0.869, 3.086], "nice": false, "zero": false},
                      "axis": {"values": [1, 1.5, 2, 2.5, 3], "format": ".1f", "grid": false, "tickSize": 7, "tickColor": "#000", "labelColor": "#000",
                               "labelPadding": 9, "labelFontSize": 12.5, "titleFontSize": 12.5, "titlePadding": 5}},
                "y": {"field": "y", "type": "quantitative", "title": "log[Amass]",
                      "scale": {"domain": [0.515, 3.913], "nice": false, "zero": false},
                      "axis": {"values": [1, 1.5, 2, 2.5, 3, 3.5], "format": ".1f", "grid": false, "tickSize": 7, "tickColor": "#000", "labelColor": "#000",
                               "labelPadding": 9, "labelFontSize": 12.5, "titleFontSize": 12.5, "titlePadding": 8}}
              }
            },
            {
              "data": {"name": "black"},
              "mark": {"type": "circle", "color": "#000000", "size": 80, "opacity": 1},
              "encoding": {"x": {"field": "x", "type": "quantitative", "title": "log[LMA]"}, "y": {"field": "y", "type": "quantitative", "title": "log[Amass]"}}
            },
            {
              "data": {"name": "green"},
              "mark": {"type": "circle", "color": "#5b7a2e", "size": 55, "opacity": 1},
              "encoding": {"x": {"field": "x", "type": "quantitative", "title": "log[LMA]"}, "y": {"field": "y", "type": "quantitative", "title": "log[Amass]"}}
            },
            {
              "data": {"name": "tri"},
              "mark": {"type": "point", "shape": "triangle-up", "filled": false, "color": "#2b2ba8", "strokeWidth": 1, "size": 110, "opacity": 1},
              "encoding": {"x": {"field": "x", "type": "quantitative", "title": "log[LMA]"}, "y": {"field": "y", "type": "quantitative", "title": "log[Amass]"}}
            },
            {
              "data": {"name": "blue"},
              "mark": {"type": "circle", "color": "#00008f", "size": 64, "opacity": 1},
              "encoding": {"x": {"field": "x", "type": "quantitative", "title": "log[LMA]"}, "y": {"field": "y", "type": "quantitative", "title": "log[Amass]"}}
            },
            {
              "data": {"name": "lines"},
              "mark": {"type": "line", "clip": true, "strokeWidth": 1.5},
              "encoding": {
                "x": {"field": "x", "type": "quantitative", "title": "log[LMA]"},
                "y": {"field": "y", "type": "quantitative", "title": "log[Amass]"},
                "color": {"field": "s", "type": "nominal",
                          "scale": {"domain": ["All species: y = 4.65 – 1.32× (r2 = 0.5***)", "Herbaceous: y = 4.56 – 1.24× (r2 = 0.21***)", "A. thaliana accessions: y = 5.57 – 2.04× (r2 = 0.54***)", "flm-3/Col-0 and rHIF099-Can/Col: y = 4.63 – 1.80× (r2 = 0.17***)"],
                                    "range": ["#9a9a9a", "#5e7d33", "#000000", "#1c1ca6"]},
                          "legend": {"orient": "none", "legendX": 112, "legendY": 14, "title": null, "symbolType": "stroke", "symbolSize": 625, "symbolStrokeWidth": 1.5,
                                     "labelFontSize": 11, "labelColor": "#000", "labelLimit": 500, "clipHeight": 13, "rowPadding": 4, "labelOffset": 7}},
                "strokeDash": {"field": "s", "type": "nominal",
                               "scale": {"domain": ["All species: y = 4.65 – 1.32× (r2 = 0.5***)", "Herbaceous: y = 4.56 – 1.24× (r2 = 0.21***)", "A. thaliana accessions: y = 5.57 – 2.04× (r2 = 0.54***)", "flm-3/Col-0 and rHIF099-Can/Col: y = 4.63 – 1.80× (r2 = 0.17***)"],
                                         "range": [[7, 5], [1, 0], [1, 0], [1, 0]]},
                               "legend": {"orient": "none", "legendX": 112, "legendY": 14, "title": null, "symbolType": "stroke", "symbolSize": 625, "symbolStrokeWidth": 1.5,
                                          "labelFontSize": 11, "labelColor": "#000", "labelLimit": 500, "clipHeight": 13, "rowPadding": 4, "labelOffset": 7}}
              }
            }
          ]
        }
      ],
      "spacing": 0,
      "bounds": "flush"
    }
  ]
}
